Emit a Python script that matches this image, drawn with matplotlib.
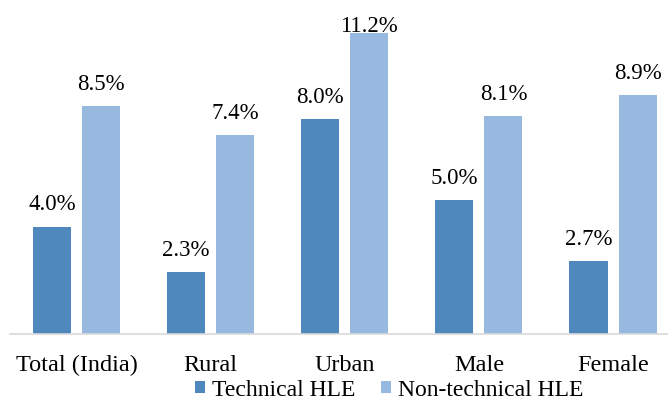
import matplotlib
matplotlib.use("Agg")
import matplotlib.pyplot as plt
import numpy as np

categories = ["Total (India)", "Rural", "Urban", "Male", "Female"]
technical = [4.0, 2.3, 8.0, 5.0, 2.7]
non_technical = [8.5, 7.4, 11.2, 8.1, 8.9]
series_names = ["Technical HLE", "Non-technical HLE"]
colors = ["#4F88BD", "#98B9DF"]

SERIF = ["Liberation Serif", "DejaVu Serif"]
plt.rcParams["font.family"] = SERIF

fig = plt.figure(figsize=(6.68, 4.01), dpi=100)
ax = fig.add_axes([10 / 668, 0.167, 1 - 10 / 668, 0.804])

x = np.arange(len(categories))
w = 0.284
off = (w + 0.082) / 2
b1 = ax.bar(x - off, technical, w, color=colors[0], label=series_names[0])
b2 = ax.bar(x + off, non_technical, w, color=colors[1], label=series_names[1])

# value labels sit a fixed gap above each bar, kept inside the plot area
label_gap = 0.6
label_cap = 11.25
for bars, vals in ((b1, technical), (b2, non_technical)):
    for rect, v in zip(bars, vals):
        ax.text(rect.get_x() + rect.get_width() / 2, min(v + label_gap, label_cap),
                f"{v:.1f}%", ha="center", va="baseline",
                fontsize=16.5, color="black")

ax.set_xlim(-0.496, 4.41)
ax.set_ylim(0, 12)
ax.set_yticks([])
ax.set_xticks(x)
ax.set_xticklabels(categories, fontsize=17.5, color="black")
ax.tick_params(axis="x", length=0, pad=15)
for s in ("top", "right", "left"):
    ax.spines[s].set_visible(False)
ax.spines["bottom"].set_color("#D9D9D9")
ax.spines["bottom"].set_linewidth(1.2)

fig.legend(loc="center", bbox_to_anchor=(0.583, 0.027), ncol=2,
           frameon=False, prop={"family": SERIF, "size": 17},
           handlelength=0.42, handleheight=0.42,
           handletextpad=0.3, columnspacing=1.1, borderpad=0.2)

fig.savefig("out.png", dpi=100)
